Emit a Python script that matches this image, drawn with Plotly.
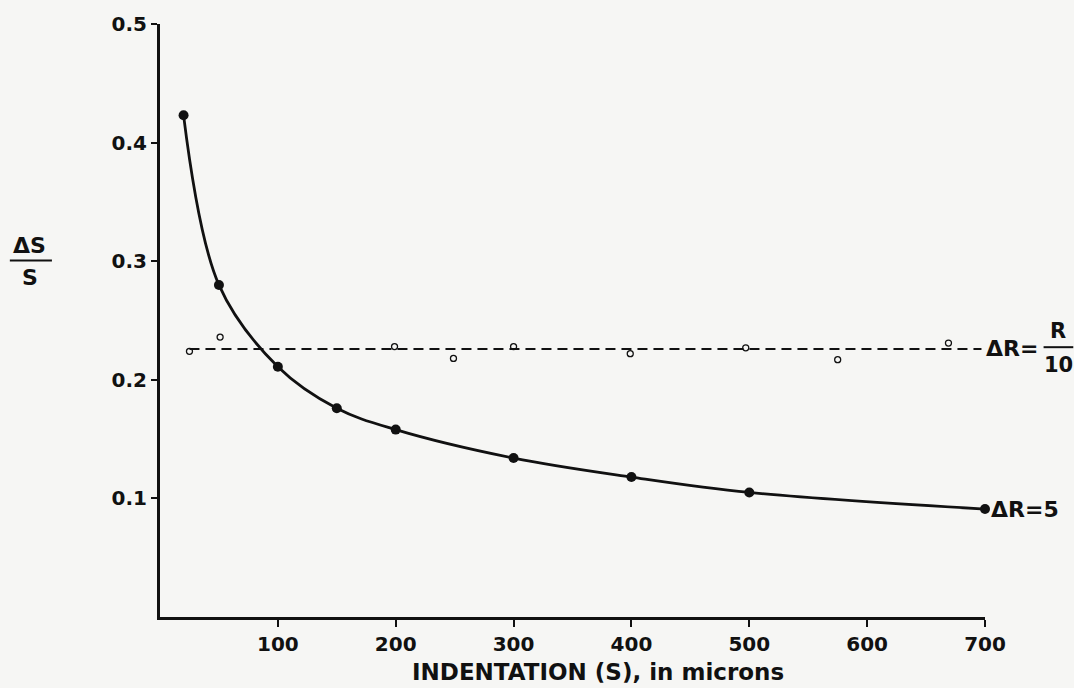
import plotly.graph_objects as go

# ---- data ----
indentation = [20, 50, 100, 150, 200, 300, 400, 500, 700]
weber_dr5 = [0.423, 0.280, 0.211, 0.176, 0.158, 0.134, 0.118, 0.105, 0.091]

dr10_line_x = [25, 697]
dr10_line_y = [0.226, 0.226]
dr10_marks_x = [25, 51, 199, 249, 300, 399, 497, 575, 669]
dr10_marks_y = [0.224, 0.236, 0.228, 0.218, 0.228, 0.222, 0.227, 0.217, 0.231]

x_tick_vals = [100, 200, 300, 400, 500, 600, 700]
x_tick_text = ["100", "200", "300", "400", "500", "600", "700"]
y_tick_vals = [0.1, 0.2, 0.3, 0.4, 0.5]
y_tick_text = ["0.1", "0.2", "0.3", "0.4", "0.5"]

INK = "#111111"
PAPER = "#f6f6f4"
FONT = "DejaVu Sans"

fig = go.Figure()

# dashed ΔR = R/10 line
fig.add_trace(go.Scatter(
    x=dr10_line_x, y=dr10_line_y, mode="lines",
    line=dict(color=INK, width=2, dash="10px,6px"),
    hoverinfo="skip", showlegend=False, cliponaxis=False))
fig.add_trace(go.Scatter(
    x=dr10_marks_x, y=dr10_marks_y, mode="markers",
    marker=dict(symbol="circle-open", size=6, color=INK, line=dict(width=1.3)),
    showlegend=False, cliponaxis=False))

# solid ΔR = 5 curve
fig.add_trace(go.Scatter(
    x=indentation, y=weber_dr5, mode="lines+markers",
    line=dict(color=INK, width=2.8, shape="spline", smoothing=1.0),
    marker=dict(symbol="circle", size=10, color=INK),
    showlegend=False, cliponaxis=False))

tick_font = dict(family=FONT, size=20, color=INK, weight="bold")
fig.update_xaxes(
    range=[0, 700], showline=True, linecolor=INK, linewidth=3,
    showgrid=False, zeroline=False,
    tickmode="array", tickvals=x_tick_vals, ticktext=x_tick_text,
    ticks="outside", ticklen=7, tickwidth=2, tickcolor=INK,
    tickfont=tick_font)
fig.update_yaxes(
    range=[0, 0.5], showline=True, linecolor=INK, linewidth=3,
    showgrid=False, zeroline=False,
    tickmode="array", tickvals=y_tick_vals, ticktext=y_tick_text,
    ticks="outside", ticklen=6, tickwidth=2, tickcolor=INK,
    tickfont=tick_font)

lab = dict(family=FONT, size=22, color=INK, weight="bold")
frac = dict(family=FONT, size=21, color=INK, weight="bold")

# curve labels
fig.add_annotation(x=dr10_line_x[-1], y=dr10_line_y[-1], xref="x", yref="y",
                   text="ΔR=", showarrow=False, xanchor="left", yanchor="middle",
                   xshift=3, font=lab)
fig.add_annotation(x=1.089, y=0.483, xref="paper", yref="paper", text="R",
                   showarrow=False, xanchor="center", yanchor="middle", font=frac)
fig.add_annotation(x=1.089, y=0.425, xref="paper", yref="paper", text="10",
                   showarrow=False, xanchor="center", yanchor="middle", font=frac)
fig.add_shape(type="line", xref="paper", yref="paper", x0=1.071, x1=1.107,
              y0=0.455, y1=0.455, line=dict(color=INK, width=2))

fig.add_annotation(x=indentation[-1], y=weber_dr5[-1], xref="x", yref="y",
                   text="ΔR=5", showarrow=False, xanchor="left", yanchor="middle",
                   xshift=4, font=lab)

# y-axis title as a fraction ΔS / S
fig.add_annotation(x=-0.158, y=0.627, xref="paper", yref="paper", text="ΔS",
                   showarrow=False, xanchor="center", yanchor="middle", font=lab)
fig.add_annotation(x=-0.158, y=0.572, xref="paper", yref="paper", text="S",
                   showarrow=False, xanchor="center", yanchor="middle", font=lab)
fig.add_shape(type="line", xref="paper", yref="paper", x0=-0.182, x1=-0.131,
              y0=0.601, y1=0.601, line=dict(color=INK, width=2))

# x-axis title
fig.add_annotation(x=0.531, y=-0.092, xref="paper", yref="paper",
                   text="INDENTATION (S), in microns", showarrow=False,
                   xanchor="center", yanchor="middle",
                   font=dict(family=FONT, size=23, color=INK, weight="bold"))

fig.update_layout(
    width=1074, height=688,
    margin=dict(l=160, r=89, t=19, b=71),
    paper_bgcolor=PAPER, plot_bgcolor=PAPER,
    showlegend=False)

fig.write_html(
    "out.html",
    config={"displayModeBar": False},
    post_script="document.body.style.margin='0';document.body.style.background='%s';" % PAPER)
